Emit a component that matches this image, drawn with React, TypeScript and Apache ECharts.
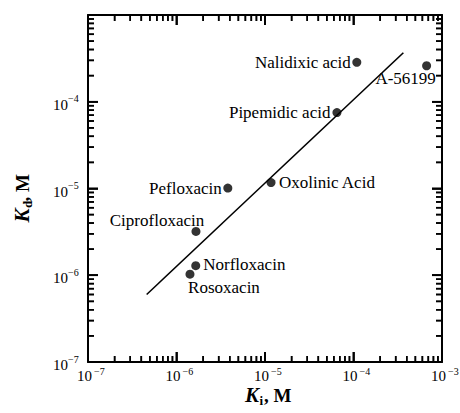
import React, { useEffect, useRef } from "react";
import * as echarts from "echarts";

// ---- data ----
const compounds = [
  "Nalidixic acid",
  "A-56199",
  "Pipemidic acid",
  "Oxolinic Acid",
  "Pefloxacin",
  "Ciprofloxacin",
  "Norfloxacin",
  "Rosoxacin",
];
const kiValues = [1.09e-4, 6.7e-4, 6.5e-5, 1.17e-5, 3.8e-6, 1.66e-6, 1.65e-6, 1.42e-6];
const kdValues = [2.85e-4, 2.6e-4, 7.5e-5, 1.17e-5, 1.01e-5, 3.2e-6, 1.29e-6, 1.03e-6];
const fitKi = [4.6e-7, 3.66e-4];
const fitKd = [6.0e-7, 3.67e-4];
const axisMin = 1e-7;
const axisMax = 1e-3;
const xLabelExponents = [-7, -6, -5, -4, -3];
const yLabelExponents = [-7, -6, -5, -4];
const decadeExponents = [-7, -6, -5, -4];
const innerDecades = [-6, -5, -4];
const minorMultipliers = [2, 3, 4, 5, 6, 7, 8, 9];

const FONT = "'Liberation Serif', 'Times New Roman', serif";
const INK = "#000";

const labelLayout: Record<string, { dx: number; dy: number; align: string }> = {
  "Nalidixic acid": { dx: -6, dy: 0, align: "right" },
  "A-56199": { dx: -21, dy: 13, align: "center" },
  "Pipemidic acid": { dx: -6.5, dy: 0, align: "right" },
  "Oxolinic Acid": { dx: 8, dy: 0, align: "left" },
  Pefloxacin: { dx: -6, dy: 0, align: "right" },
  Ciprofloxacin: { dx: -39, dy: -11, align: "center" },
  Norfloxacin: { dx: 7.5, dy: -1, align: "left" },
  Rosoxacin: { dx: 34, dy: 13, align: "center" },
};

const txt = (text: string, x: number, y: number, size: number, align: string, extra: any = {}) => ({
  type: "text",
  x,
  y,
  silent: true,
  style: {
    text,
    fill: INK,
    fontFamily: FONT,
    fontSize: size,
    align,
    textAlign: align,
    verticalAlign: "middle",
    textVerticalAlign: "middle",
    ...extra,
  },
});

export default function App() {
  const ref = useRef<HTMLDivElement>(null);

  useEffect(() => {
    if (!ref.current) return;
    const chart = echarts.init(ref.current, undefined, { renderer: "svg" });

    // tick items: [x, y, side(0 bottom,1 top,2 left,3 right), length]
    const tickItems: number[][] = [];
    const addTick = (v: number, len: number) => {
      tickItems.push([v, axisMin, 0, len]);
      tickItems.push([v, axisMin, 1, len]);
      tickItems.push([axisMin, v, 2, len]);
      tickItems.push([axisMin, v, 3, len]);
    };
    for (const d of decadeExponents) {
      for (const m of minorMultipliers) addTick(m * Math.pow(10, d), 6);
    }
    for (const d of innerDecades) addTick(Math.pow(10, d), 10);

    const makeAxis = (position: string) => ({
      type: "log",
      logBase: 10,
      min: axisMin,
      max: axisMax,
      position,
      splitLine: { show: false },
      axisLine: { show: true, onZero: false, lineStyle: { color: INK, width: 2 } },
      axisTick: { show: true, inside: true, length: 10, lineStyle: { color: INK, width: 1.6 } },
      axisLabel: { show: false },
    });

    chart.setOption({
      animation: false,
      grid: { left: 88, right: 18, top: 15, bottom: 51, outerBoundsMode: "none" },
      xAxis: [makeAxis("bottom"), makeAxis("top")],
      yAxis: [makeAxis("left"), makeAxis("right")],
      series: [
        {
          type: "line",
          data: fitKi.map((x, i) => [x, fitKd[i]]),
          symbol: "none",
          lineStyle: { color: INK, width: 1.6 },
        },
        {
          type: "scatter",
          symbol: "circle",
          symbolSize: 9,
          itemStyle: { color: INK },
          data: compounds.map((name, i) => ({ name, value: [kiValues[i], kdValues[i]] })),
        },
        {
          type: "custom",
          clip: false,
          z: 10,
          data: tickItems,
          renderItem: (params: any, api: any) => {
            const lo = api.coord([axisMin, axisMin]);
            const hi = api.coord([axisMax, axisMax]);
            const side = api.value(2);
            const L = api.value(3);
            const w = 1.6;
            if (side === 0 || side === 1) {
              const x = api.coord([api.value(0), axisMin])[0];
              const y0 = side === 0 ? lo[1] - L : hi[1];
              return { type: "rect", shape: { x: x - w / 2, y: y0, width: w, height: L }, style: { fill: "#000000" } };
            }
            const y = api.coord([axisMin, api.value(1)])[1];
            const x0 = side === 2 ? lo[0] : hi[0] - L;
            return { type: "rect", shape: { x: x0, y: y - w / 2, width: L, height: w }, style: { fill: "#000000" } };
          },
        },
      ],
    });

    const px = (v: number[]) => chart.convertToPixel({ gridIndex: 0 }, v) as number[];
    const gfx: any[] = [];

    const lo = px([axisMin, axisMin]);
    const hi = px([axisMax, axisMax]);

    // tick marks also as graphic lines, placed through the axis scales
    for (const it of tickItems) {
      const side = it[2];
      const L = it[3];
      const st = { stroke: "#000000", lineWidth: 1.6 };
      if (side === 0 || side === 1) {
        const x = px([it[0], axisMin])[0];
        const yb = side === 0 ? lo[1] : hi[1];
        const ye = side === 0 ? lo[1] - L : hi[1] + L;
        gfx.push({ type: "line", silent: true, shape: { x1: x, y1: yb, x2: x, y2: ye }, style: st });
      } else {
        const y = px([axisMin, it[1]])[1];
        const xb = side === 2 ? lo[0] : hi[0];
        const xe = side === 2 ? lo[0] + L : hi[0] - L;
        gfx.push({ type: "line", silent: true, shape: { x1: xb, y1: y, x2: xe, y2: y }, style: st });
      }
    }

    // y tick labels
    for (const e of yLabelExponents) {
      const p = px([axisMin, Math.pow(10, e)]);
      gfx.push(txt("10", p[0] - 20, p[1] + 3, 15, "right"));
      gfx.push(txt("\u2212" + Math.abs(e), p[0] - 20, p[1] - 3, 10, "left"));
    }
    // x tick labels
    for (const e of xLabelExponents) {
      const p = px([Math.pow(10, e), axisMin]);
      gfx.push(txt("10", p[0] + 4, p[1] + 14, 15, "right"));
      gfx.push(txt("\u2212" + Math.abs(e), p[0] + 6, p[1] + 9, 10, "left"));
    }

    // axis titles
    const cx = (lo[0] + hi[0]) / 2 + 3;
    const nameY = lo[1] + 33;
    const bold = { fontWeight: "bold" };
    const boldItal = { fontWeight: "bold", fontStyle: "italic" };
    gfx.push(txt("K", cx - 23, nameY, 21, "left", boldItal));
    gfx.push(txt("i", cx - 8.5, nameY + 5, 13, "left", bold));
    gfx.push(txt(", M", cx - 4, nameY, 19, "left", bold));

    const cy = (lo[1] + hi[1]) / 2 + 11;
    gfx.push({
      type: "group",
      x: 22,
      y: cy,
      rotation: Math.PI / 2,
      silent: true,
      children: [
        txt("K", -23, 0, 21, "left", boldItal),
        txt("d", -8.5, 5, 13, "left", bold),
        txt(", M", -2, 0, 19, "left", bold),
      ],
    });

    // point labels
    compounds.forEach((name, i) => {
      const p = px([kiValues[i], kdValues[i]]);
      const l = labelLayout[name];
      gfx.push(txt(name, p[0] + l.dx, p[1] + l.dy, 17, l.align));
    });

    chart.setOption({ graphic: gfx });

    return () => chart.dispose();
  }, []);

  return <div ref={ref} style={{ position: "absolute", left: 0, top: 0, width: 460, height: 413 }} />;
}
